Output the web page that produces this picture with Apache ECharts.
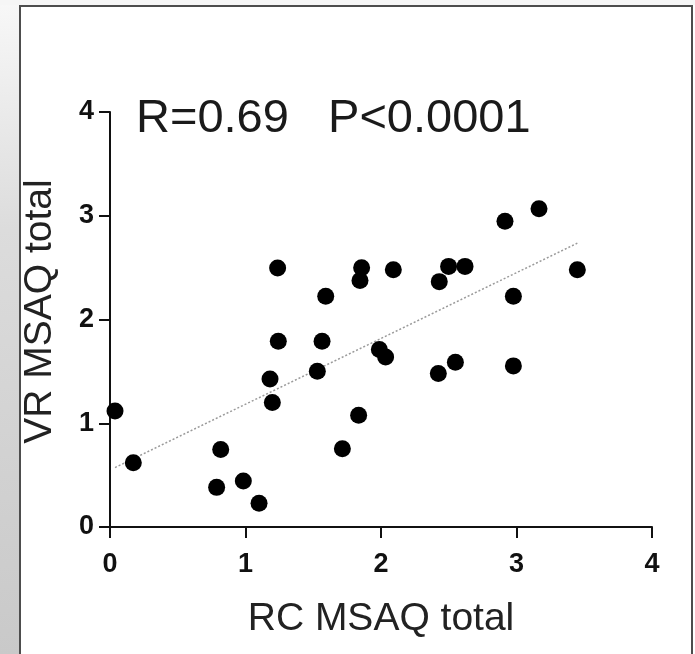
<!DOCTYPE html>
<html>
<head>
<meta charset="utf-8">
<script src="https://cdn.jsdelivr.net/npm/echarts@6/dist/echarts.min.js"></script>
<style>
  html, body { margin: 0; padding: 0; background: #ffffff; }
  #chart { width: 695px; height: 654px; }
</style>
</head>
<body>
<div id="chart"></div>
<script>
// RC vs VR MSAQ totals, one point per participant
const rcTotal = [
  0.037, 0.172, 0.817, 0.787, 0.984, 1.10, 1.237, 1.242, 1.181, 1.198,
  1.592, 1.565, 1.530, 1.857, 1.845, 2.091, 1.988, 2.034, 1.835, 1.715,
  2.423, 2.549, 2.430, 2.499, 2.620, 2.915, 3.166, 3.449, 2.977, 2.977
];
const vrTotal = [
  1.117, 0.619, 0.748, 0.382, 0.443, 0.228, 2.496, 1.790, 1.427, 1.200,
  2.223, 1.790, 1.501, 2.499, 2.377, 2.480, 1.710, 1.639, 1.078, 0.754,
  1.479, 1.588, 2.365, 2.512, 2.512, 2.948, 3.067, 2.480, 2.223, 1.553
];
const axisTicks = [0, 1, 2, 3, 4];
const statsText = 'R=0.69   P<0.0001';
const xTitle = 'RC MSAQ total';
const yTitle = 'VR MSAQ total';

// least-squares fit drawn across the observed RC range
function linearFit(xs, ys) {
  const n = xs.length;
  const mx = xs.reduce((a, b) => a + b, 0) / n;
  const my = ys.reduce((a, b) => a + b, 0) / n;
  let sxy = 0, sxx = 0;
  for (let i = 0; i < n; i++) {
    sxy += (xs[i] - mx) * (ys[i] - my);
    sxx += (xs[i] - mx) * (xs[i] - mx);
  }
  const slope = sxy / sxx;
  return { slope, intercept: my - slope * mx };
}
const fit = linearFit(rcTotal, vrTotal);
const xMin = Math.min(...rcTotal), xMax = Math.max(...rcTotal);
const fitLine = [
  [xMin, fit.intercept + fit.slope * xMin],
  [xMax, fit.intercept + fit.slope * xMax]
];
const points = rcTotal.map((x, i) => [x, vrTotal[i]]);

const FONT = "'Liberation Sans', Arial, Helvetica, sans-serif";
const chart = echarts.init(document.getElementById('chart'), null, { renderer: 'canvas' });

function tickLabel(margin) {
  return {
    show: true,
    margin: margin,
    fontFamily: FONT,
    fontSize: 27,
    lineHeight: 28,
    fontWeight: 'bold',
    color: '#111111',
    formatter: v => String(v)
  };
}

function valueAxis(title, gap, labelMargin, titlePadding) {
  return {
    type: 'value',
    min: axisTicks[0],
    max: axisTicks[axisTicks.length - 1],
    interval: 1,
    splitLine: { show: false },
    axisLine: { show: true, lineStyle: { color: '#111', width: 2 } },
    axisTick: { show: true, inside: false, length: 11, lineStyle: { color: '#111', width: 2 } },
    axisLabel: tickLabel(labelMargin),
    name: title,
    nameLocation: 'middle',
    nameGap: gap,
    nameTextStyle: { fontFamily: FONT, fontSize: 39, color: '#222', padding: titlePadding }
  };
}

chart.setOption({
  animation: false,
  backgroundColor: '#ffffff',
  textStyle: { fontFamily: FONT },
  graphic: [
    {
      type: 'rect', z: -10, silent: true,
      shape: { x: 0, y: 0, width: 20, height: 654 },
      style: {
        fill: new echarts.graphic.LinearGradient(0, 0, 0, 1, [
          { offset: 0, color: '#f8f8f8' },
          { offset: 0.35, color: '#dcdcdc' },
          { offset: 1, color: '#c9c9c9' }
        ])
      }
    },
    {
      type: 'rect', z: -10, silent: true,
      shape: { x: 0, y: 0, width: 695, height: 5 },
      style: { fill: '#f6f6f6' }
    },
    {
      type: 'rect', z: -9, silent: true,
      shape: { x: 20, y: 6, width: 672, height: 660 },
      style: { fill: '#ffffff', stroke: '#4d4d4d', lineWidth: 2 }
    },
    {
      type: 'text', z: 10,
      style: {
        x: 136, y: 119,
        text: statsText,
        font: '47px ' + FONT,
        fill: '#1a1a1a',
        verticalAlign: 'middle'
      }
    }
  ],
  grid: { left: 110, right: 43, top: 112, bottom: 127, containLabel: false },
  xAxis: valueAxis(xTitle, 73, 24, [0, 0, 0, 0]),
  yAxis: valueAxis(yTitle, 50, 16, [0, 0, 0, 16]),
  series: [
    {
      type: 'line',
      data: fitLine,
      symbol: 'none',
      silent: true,
      lineStyle: { color: '#9a9a9a', width: 1.5, type: [2, 2] },
      z: 1
    },
    {
      type: 'scatter',
      data: points,
      symbol: 'circle',
      symbolSize: 17,
      itemStyle: { color: '#000000', opacity: 1 },
      z: 3
    }
  ]
});
</script>
</body>
</html>
